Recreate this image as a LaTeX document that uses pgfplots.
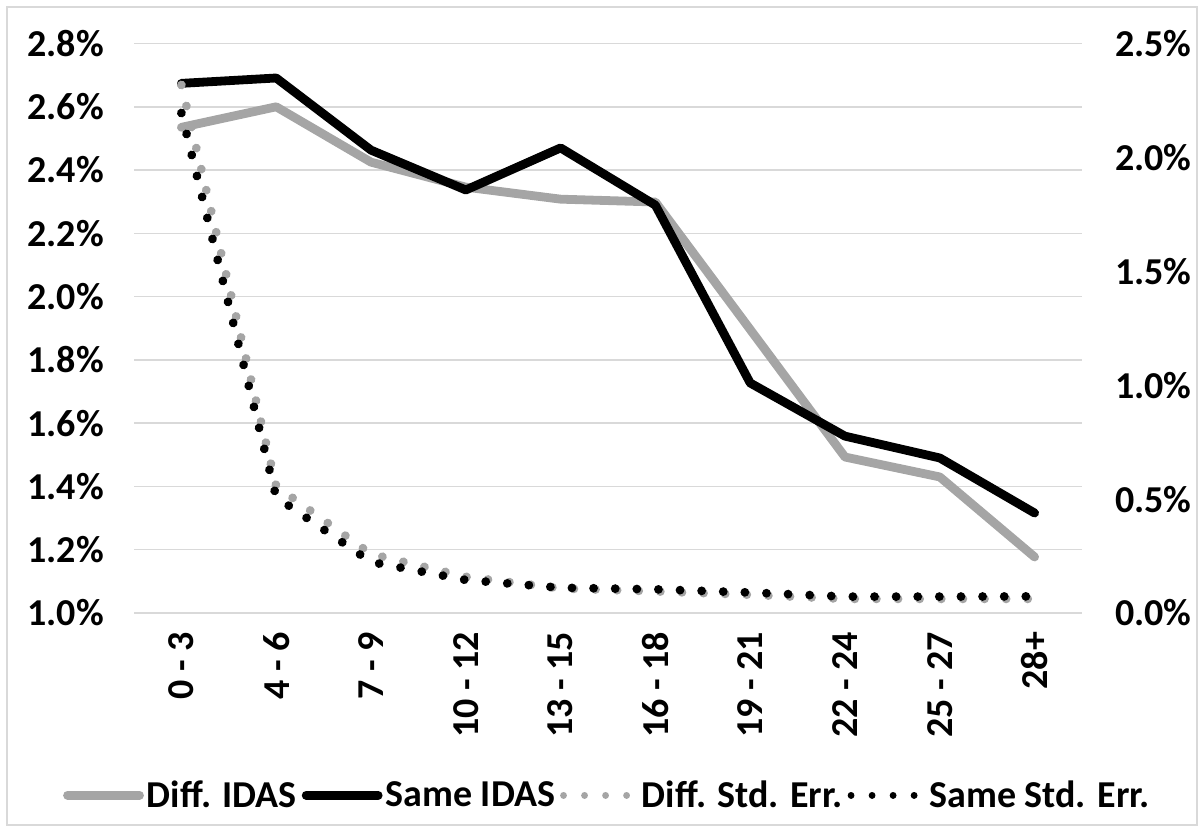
\documentclass[border=0pt]{standalone}
\usepackage{pgfplots}
\pgfplotsset{compat=1.18}
\usepackage{fontspec}
\setmainfont{Carlito}
\definecolor{lgray}{HTML}{A5A5A5}
\definecolor{gridc}{HTML}{D9D9D9}
\begin{document}
\begin{tikzpicture}[x=1pt,y=1pt]
\useasboundingbox (0,0) rectangle (602,416);
\draw[gridc, line width=0.75pt] (3.5,3.5) rectangle (598.5,412.5);
\pgfplotsset{
  mystyle/.style={
    scale only axis, width=474pt, height=284.75pt,
    at={(67pt,109.5pt)}, anchor=south west,
    xmin=-0.5, xmax=9.5,
    axis line style={draw=none},
    tick style={draw=none},
    ticklabel style={font=\fontsize{19}{22}\selectfont\bfseries},
    /pgf/number format/assume math mode=true,
    clip=false,
  }
}
\begin{axis}[mystyle,
  ymin=1.0, ymax=2.8,
  ytick={1.0,1.2,1.4,1.6,1.8,2.0,2.2,2.4,2.6,2.8},
  yticklabel={\pgfmathprintnumber[fixed,fixed zerofill,precision=1]{\tick}\%},
  yticklabel style={xshift=-11.5pt},
  ymajorgrids, grid style={gridc, line width=0.75pt},
  xtick={0,1,2,3,4,5,6,7,8,9},
  xticklabels={0 - 3,4 - 6,7 - 9,10 - 12,13 - 15,16 - 18,19 - 21,22 - 24,25 - 27,28+},
  xticklabel style={rotate=90, anchor=east},
  xticklabel shift=6pt,
]
\addplot[lgray, line width=4.4pt, line cap=round, line join=round] coordinates {
(0,2.535) (1,2.600) (2,2.425) (3,2.346) (4,2.308) (5,2.299) (6,1.896) (7,1.493) (8,1.430) (9,1.177)};
\addplot[black, line width=4.4pt, line cap=round, line join=round] coordinates {
(0,2.674) (1,2.691) (2,2.463) (3,2.337) (4,2.470) (5,2.289) (6,1.727) (7,1.559) (8,1.490) (9,1.316)};
\end{axis}
\begin{axis}[mystyle,
  ymin=0, ymax=2.5,
  ytick={0,0.5,1.0,1.5,2.0,2.5},
  yticklabel={\pgfmathprintnumber[fixed,fixed zerofill,precision=1]{\tick}\%},
  axis y line*=right,
  yticklabel style={xshift=13pt},
  xtick=\empty,
  legend columns=4,
  legend style={at={(0.5,-0.32)}, anchor=center, draw=none, fill=none,
    font=\fontsize{19}{22}\selectfont\bfseries,
    nodes={inner sep=1.5pt},
    /tikz/every even column/.append style={column sep=1pt}},
  legend image code/.code={\draw[#1] (0pt,0pt) -- (36pt,0pt);},
]
\addlegendimage{lgray, line width=4.4pt, line cap=round}
\addlegendentry{Diff. IDAS}
\addlegendimage{black, line width=4.4pt, line cap=round}
\addlegendentry{Same IDAS}
\addlegendimage{lgray, line width=3.4pt, line cap=round, dash pattern=on 0.01pt off 10.5pt}
\addlegendentry{Diff. Std. Err.}
\addlegendimage{black, line width=3.4pt, line cap=round, dash pattern=on 0.01pt off 10.5pt}
\addlegendentry{Same Std. Err.}
\addplot[forget plot, lgray, line width=4.4pt, line cap=round, line join=round, dash pattern=on 0.01pt off 10.8pt] coordinates {
(0,2.318) (1,0.557) (2,0.259) (3,0.159) (4,0.108) (5,0.095) (6,0.080) (7,0.062) (8,0.062) (9,0.062)};
\addplot[forget plot, black, line width=4.4pt, line cap=round, line join=round, dash pattern=on 0.01pt off 10.8pt] coordinates {
(0,2.195) (1,0.509) (2,0.224) (3,0.145) (4,0.111) (5,0.104) (6,0.090) (7,0.072) (8,0.072) (9,0.073)};
\end{axis}
\end{tikzpicture}
\end{document}
